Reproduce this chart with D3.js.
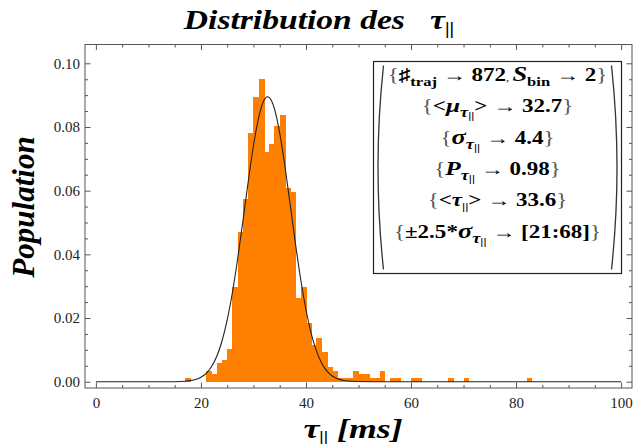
<!DOCTYPE html>
<html><head><meta charset="utf-8">
<script src="https://cdn.jsdelivr.net/npm/d3@7"></script>
<style>body{margin:0;background:#fff}svg{display:block}</style>
</head><body>
<svg id="c" width="635" height="446"></svg>
<script>
// ---- data ----
const binStart = [17,21,22,23,24,25,26,27,28,29,30,31,32,33,34,35,36,37,38,39,40,41,42,43,44,45,46,47,48,49,50,51,52,53,54,56,57,60,61,67,70,82];
const binCount = [1,3,2,5,6,9,26,41,50,68,78,83,63,65,70,73,53,52,23,26,16,10,12,8,4,3,1,1,1,3,2,2,1,1,3,1,1,1,1,1,1,1];
const binWidth = 1;
const nTraj = 872;
const fitX = [0,10,14,16,17,18,19,20,21,22,23,24,25,26,27,28,29,30,31,32,32.7,33,34,35,36,37,38,39,40,41,42,43,44,45,46,47,48,50,54,60,100];
const fitY = [0,0,0,0.00007,0.00015,0.00034,0.0007,0.0014,0.0026,0.0047,0.0079,0.0127,0.0194,0.0281,0.0387,0.0506,0.0628,0.0741,0.0830,0.0884,0.0895,0.0893,0.0857,0.0781,0.0676,0.0555,0.0433,0.0321,0.0226,0.0151,0.0096,0.0058,0.0033,0.0018,0.0009,0.00046,0.0002,0.00004,0,0,0];
const xMajor = [0,20,40,60,80,100];
const xMinor = [5,10,15,25,30,35,45,50,55,65,70,75,85,90,95];
const yMajor = [0,0.02,0.04,0.06,0.08,0.10];
const yMinor = [0.005,0.01,0.015,0.025,0.03,0.035,0.045,0.05,0.055,0.065,0.07,0.075,0.085,0.09,0.095];

const svg = d3.select('#c');
const F = {x0:85, x1:632, y0:44.5, y1:388};
const x = d3.scaleLinear().domain([0,100]).range([95.9, 621.1]);
const y = d3.scaleLinear().domain([0,0.1]).range([381.7, 63.3]);
const serif = '"Liberation Serif","Times New Roman",serif';

// bars
svg.append('g').attr('shape-rendering','crispEdges').selectAll('rect')
  .data(binStart.map((b,i)=>({b, d: binCount[i]/(nTraj*binWidth)})))
  .join('rect')
  .attr('x', d=>x(d.b)).attr('width', d=>x(d.b+binWidth)-x(d.b)+0.6)
  .attr('y', d=>y(d.d)).attr('height', d=>y(0)-y(d.d))
  .attr('fill','#FF8000');

// fit curve
svg.append('path').datum(fitX.map((v,i)=>[v,fitY[i]]))
  .attr('d', d3.line().x(d=>x(d[0])).y(d=>y(d[1])).curve(d3.curveMonotoneX))
  .attr('fill','none').attr('stroke','#222').attr('stroke-width',1.1);

// frame
svg.append('rect').attr('x',F.x0).attr('y',F.y0).attr('width',F.x1-F.x0).attr('height',F.y1-F.y0)
  .attr('fill','none').attr('stroke','#555').attr('stroke-width',1);

function styleAxis(g){ g.select('.domain').remove(); g.selectAll('line').attr('stroke','#555');
  g.selectAll('text').attr('font-family',serif).attr('font-size',15).attr('fill','#222'); }
const fmt = d3.format('.2f');
svg.append('g').attr('transform',`translate(0,${F.y1})`).call(d3.axisBottom(x).tickValues(xMajor).tickSize(-5.5).tickPadding(9.5).tickFormat(d3.format('d'))).call(styleAxis);
svg.append('g').attr('transform',`translate(0,${F.y1})`).call(d3.axisBottom(x).tickValues(xMinor).tickSize(-3).tickFormat('')).call(styleAxis);
svg.append('g').attr('transform',`translate(0,${F.y0})`).call(d3.axisTop(x).tickValues(xMajor).tickSize(-5.5).tickFormat('')).call(styleAxis);
svg.append('g').attr('transform',`translate(0,${F.y0})`).call(d3.axisTop(x).tickValues(xMinor).tickSize(-3).tickFormat('')).call(styleAxis);
svg.append('g').attr('transform',`translate(${F.x0},0)`).call(d3.axisLeft(y).tickValues(yMajor).tickSize(-5.5).tickPadding(5).tickFormat(fmt)).call(styleAxis);
svg.append('g').attr('transform',`translate(${F.x0},0)`).call(d3.axisLeft(y).tickValues(yMinor).tickSize(-3).tickFormat('')).call(styleAxis);
svg.append('g').attr('transform',`translate(${F.x1},0)`).call(d3.axisRight(y).tickValues(yMajor).tickSize(-5.5).tickFormat('')).call(styleAxis);
svg.append('g').attr('transform',`translate(${F.x1},0)`).call(d3.axisRight(y).tickValues(yMinor).tickSize(-3).tickFormat('')).call(styleAxis);

// rich text helper
function rich(sel, parts, size){
  let cur = 0;
  parts.forEach(p=>{
    const off = (p.sub||0)*size;
    const ts = sel.append('tspan').text(p.t).attr('dy', off-cur).attr('font-size', (p.s||1)*size);
    if (p.i!==undefined) ts.attr('font-style', p.i?'italic':'normal');
    if (p.w) ts.attr('font-weight', p.w);
    if (p.f) ts.attr('fill', p.f);
    cur = off;
  });
}
function stretched(cx, cy, sx, attrs){
  const t = svg.append('text').attr('transform',`translate(${cx},${cy}) scale(${sx},1)`)
    .attr('text-anchor','middle').attr('font-family',serif).attr('font-weight','bold').attr('fill','#000');
  Object.entries(attrs||{}).forEach(([k,v])=>t.attr(k,v));
  return t;
}

// title
rich(stretched(319, 29, 1.2, {'font-style':'italic'}),
  [{t:'Distribution des\u2002 '},{t:'\u03c4'},{t:'||',s:0.62,sub:0.17,i:false}], 28);

// axis labels
rich(svg.append('text').attr('transform','translate(34,207) rotate(-90)').attr('text-anchor','middle')
  .attr('font-family',serif).attr('font-weight','bold').attr('font-style','italic'),
  [{t:'Population'}], 31);
rich(stretched(353, 437.5, 1.28, {'font-style':'italic'}),
  [{t:'\u03c4'},{t:'||',s:0.55,sub:0.12,i:false},{t:' [ms]',sub:0}], 28);

// legend box
const L = {x:373.5, y:61.5, w:248, h:212};
svg.append('rect').attr('x',L.x).attr('y',L.y).attr('width',L.w).attr('height',L.h)
  .attr('fill','#fff').attr('stroke','#222').attr('stroke-width',1.2);
svg.append('path').attr('d',`M${L.x+10},${L.y+4} Q${L.x-1},${L.y+L.h/2} ${L.x+10},${L.y+L.h-4}`)
  .attr('fill','none').attr('stroke','#333').attr('stroke-width',1.3);
svg.append('path').attr('d',`M${L.x+L.w-10},${L.y+4} Q${L.x+L.w+1},${L.y+L.h/2} ${L.x+L.w-10},${L.y+L.h-4}`)
  .attr('fill','none').attr('stroke','#333').attr('stroke-width',1.3);

const brace = t => ({t, w:'normal', f:'#555'});
const tauSub = [{t:'\u03c4',s:0.8,sub:0.28,i:true},{t:'||',s:0.6,sub:0.4,i:false}];
const legendLines = [
  [brace('{'),{t:'\u266f'},{t:'traj',s:0.72,sub:0.25},{t:' \u2192 872',sub:0},{t:', ',s:0.55,w:'normal'},{t:'S',i:true,s:1.15},{t:'bin',s:0.72,sub:0.25},{t:' \u2192 2',sub:0},brace('}')],
  [brace('{'),{t:'<'},{t:'\u03bc',i:true,s:1.1},...tauSub,{t:'>',sub:0},{t:' \u2192 32.7'},brace('}')],
  [brace('{'),{t:'\u03c3',i:true,s:1.15},...tauSub,{t:' \u2192 4.4',sub:0},brace('}')],
  [brace('{'),{t:'P',i:true,s:1.1},...tauSub,{t:' \u2192 0.98',sub:0},brace('}')],
  [brace('{'),{t:'<'},{t:'\u03c4',i:true},{t:'||',s:0.62,sub:0.22,i:false},{t:'>',sub:0},{t:' \u2192 33.6'},brace('}')],
  [brace('{'),{t:'\u00b12.5*'},{t:'\u03c3',i:true,s:1.15},...tauSub,{t:' \u2192 [21:68]',sub:0},brace('}')]
];
const legendY = [81, 112, 143.5, 175, 206, 238];
legendLines.forEach((parts,i)=>{
  rich(stretched(L.x+L.w/2, legendY[i], 1.28), parts, 18);
});
</script>
</body></html>
